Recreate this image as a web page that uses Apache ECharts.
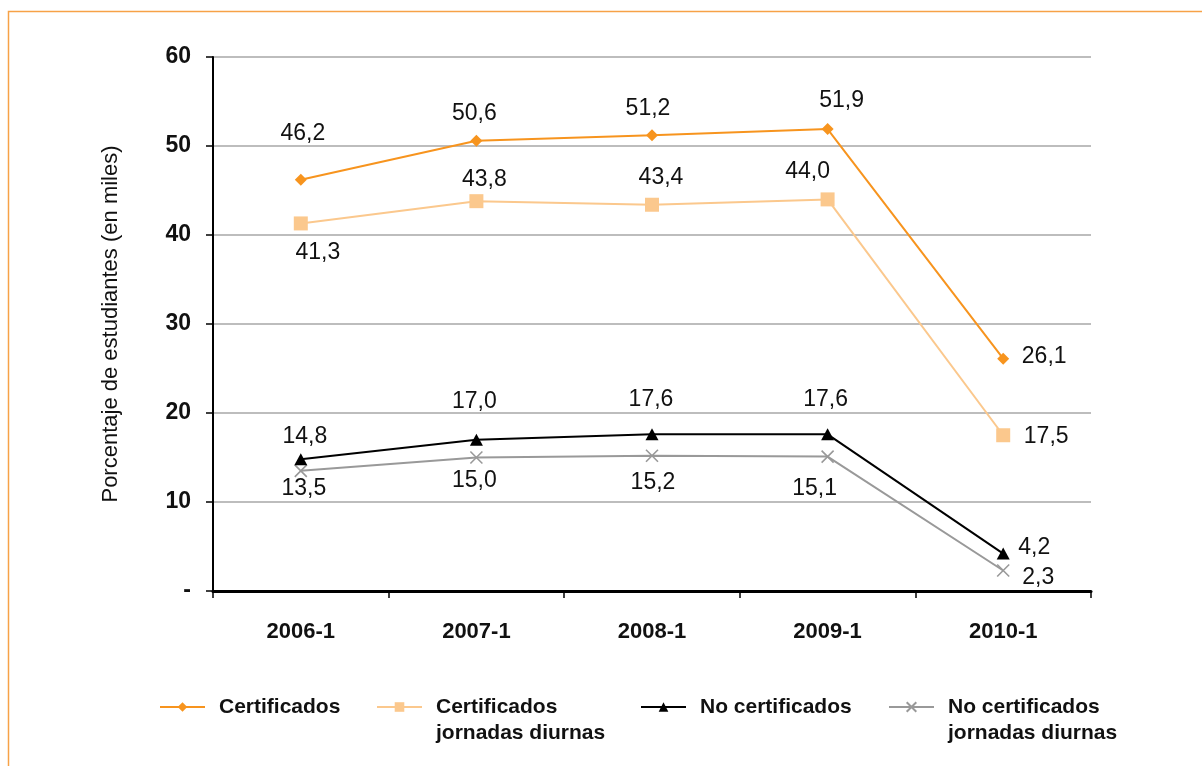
<!DOCTYPE html>
<html>
<head>
<meta charset="utf-8">
<script src="https://cdn.jsdelivr.net/npm/echarts@6/dist/echarts.min.js"></script>
<style>
html,body{margin:0;padding:0;background:#fff;}
#chart{width:1202px;height:766px;}
</style>
</head>
<body>
<div id="chart"></div>
<script>
// ---- data ----
const categories = ['2006-1', '2007-1', '2008-1', '2009-1', '2010-1'];
const certificados = [46.2, 50.6, 51.2, 51.9, 26.1];
const certificadosDiurnas = [41.3, 43.8, 43.4, 44.0, 17.5];
const noCertificados = [14.8, 17.0, 17.6, 17.6, 4.2];
const noCertificadosDiurnas = [13.5, 15.0, 15.2, 15.1, 2.3];
const seriesNames = ['Certificados', 'Certificados\njornadas diurnas', 'No certificados', 'No certificados\njornadas diurnas'];
const yAxisTitle = 'Porcentaje de estudiantes (en miles)';

// ---- style (label placement offsets relative to each marker) ----
const labelOffsets = [
  [[2,-46],[-2,-27],[-4,-27],[14,-28],[41,-2]],
  [[17,29],[8,-22],[9,-27],[-20,-28],[43,1]],
  [[4,-23],[-2,-38],[-1,-35],[-2,-35],[31,-6]],
  [[3,18],[-2,23],[1,27],[-13,32],[35,7]]
];
const FONT = '"Liberation Sans", Arial, Helvetica, sans-serif';
const fmt = v => v.toFixed(1).replace('.', ',');

function buildData(values, idx) {
  return values.map((v, i) => ({
    value: v,
    label: { offset: labelOffsets[idx][i] }
  }));
}

const colors = ['#F7941E', '#FBC88D', '#000000', '#999999'];
const symbols = ['diamond', 'rect', 'triangle', 'path://M0,0L10,10M10,0L0,10'];
const symbolSizes = [[12, 12], [14, 14], [13, 12], [12, 12]];
const allValues = [certificados, certificadosDiurnas, noCertificados, noCertificadosDiurnas];

const series = allValues.map((vals, k) => ({
  name: seriesNames[k],
  type: 'line',
  data: buildData(vals, k),
  symbol: symbols[k],
  symbolSize: symbolSizes[k],
  showAllSymbol: true,
  lineStyle: { color: colors[k], width: 2 },
  itemStyle: k === 3
    ? { color: colors[k], borderColor: colors[k], borderWidth: 1.6 }
    : { color: colors[k], borderWidth: 0 },
  label: {
    show: true,
    position: 'inside',
    formatter: p => fmt(p.value),
    color: '#111',
    fontSize: 23,
    fontFamily: FONT
  },
  emphasis: { disabled: true },
  z: 10 - k
}));

function legendFor(k, left, twoLine) {
  return {
    data: [seriesNames[k]],
    left: left,
    top: twoLine ? 668 : 694,
    padding: 0,
    itemWidth: 45,
    itemHeight: 12,
    selectedMode: false,
    formatter: name => (twoLine ? '\n' + name : name),
    textStyle: {
      fontFamily: FONT,
      fontWeight: 'bold',
      fontSize: 21,
      lineHeight: 26,
      color: '#111',
      padding: [0, 0, 0, 9]
    }
  };
}

const option = {
  animation: false,
  backgroundColor: '#fff',
  textStyle: { fontFamily: FONT },
  graphic: [{
    type: 'rect',
    shape: { x: 8.5, y: 11.5, width: 1400, height: 1000 },
    style: { fill: 'none', stroke: '#F7A247', lineWidth: 1.5 },
    silent: true,
    z: -10
  }],
  grid: { left: 213, right: 111, top: 57, bottom: 175 },
  legend: [
    legendFor(0, 159, false),
    legendFor(1, 376, true),
    legendFor(2, 640, false),
    legendFor(3, 888, true)
  ],
  xAxis: {
    type: 'category',
    data: categories,
    boundaryGap: true,
    axisLine: { lineStyle: { color: '#000', width: 3 } },
    axisTick: { show: true, length: 7, lineStyle: { color: '#000', width: 1.5 } },
    axisLabel: {
      color: '#111', fontWeight: 'bold', fontSize: 22, fontFamily: FONT, margin: 30
    },
    splitLine: { show: false }
  },
  yAxis: {
    type: 'value',
    min: 0,
    max: 60,
    interval: 10,
    name: yAxisTitle,
    nameLocation: 'middle',
    nameGap: 91,
    nameTextStyle: { fontSize: 22, color: '#111', fontFamily: FONT },
    axisLine: { show: true, lineStyle: { color: '#000', width: 2 } },
    axisTick: { show: true, length: 7, lineStyle: { color: '#000', width: 1.5 } },
    axisLabel: {
      color: '#111', fontWeight: 'bold', fontSize: 23, fontFamily: FONT, margin: 22,
      formatter: v => (v === 0 ? '-' : String(v))
    },
    splitLine: { show: true, lineStyle: { color: '#BDBDBD', width: 2 } }
  },
  series: series
};

const chart = echarts.init(document.getElementById('chart'), null, { renderer: 'canvas' });
chart.setOption(option);
</script>
</body>
</html>
